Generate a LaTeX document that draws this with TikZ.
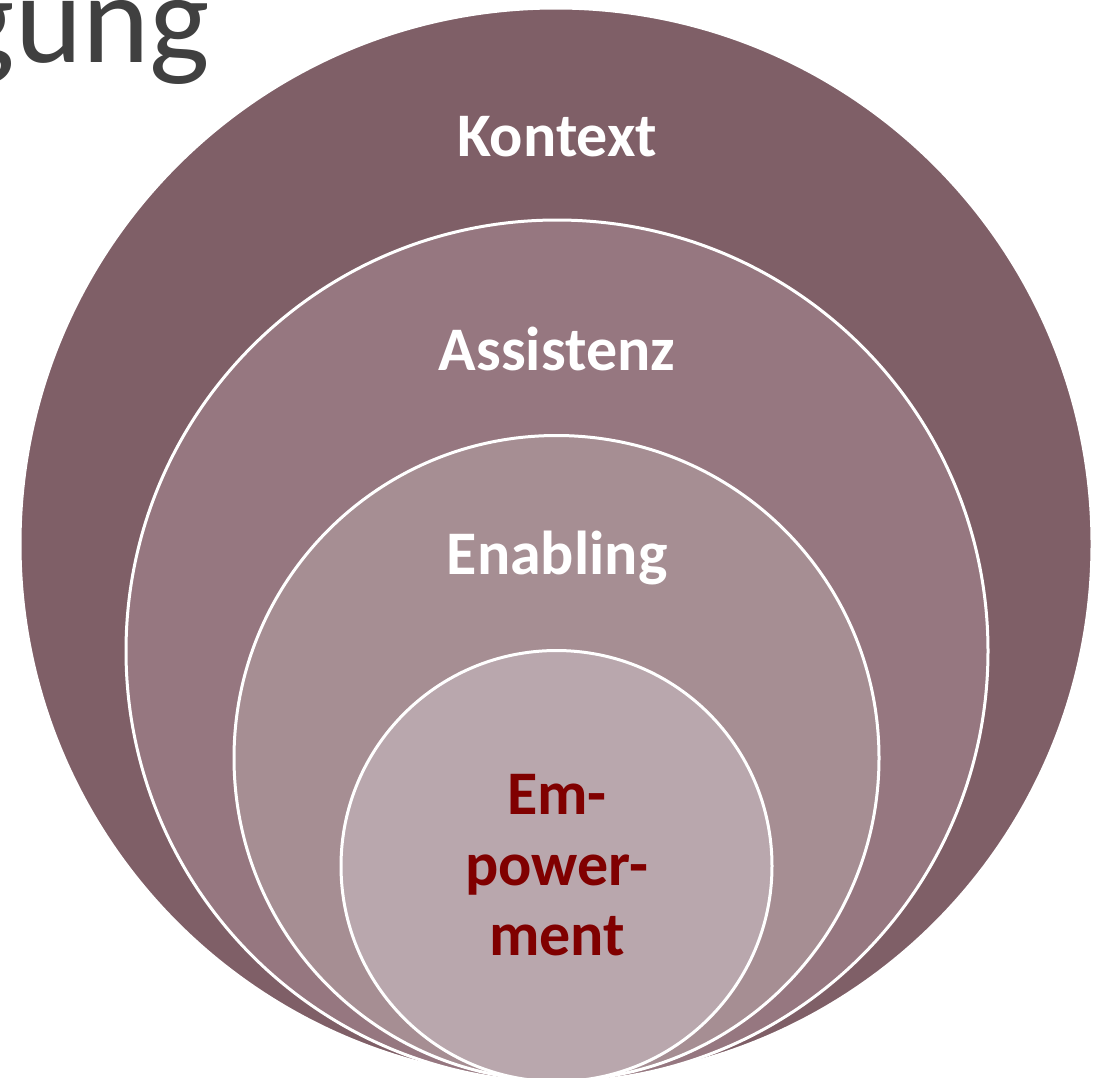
\documentclass[tikz,border=0pt]{standalone}
\usepackage{fontspec}
\setmainfont{Carlito}
\definecolor{cA}{HTML}{7F5F67}
\definecolor{cB}{HTML}{967780}
\definecolor{cC}{HTML}{A68E93}
\definecolor{cD}{HTML}{B9A7AD}
\definecolor{cRed}{HTML}{800000}
\definecolor{cGray}{HTML}{404040}
\tikzset{
  ring/.style={circle, draw=white, line width=3pt, inner sep=0pt},
  lbl/.style={font=\fontsize{62}{74}\selectfont\bfseries, text=white, anchor=base, inner sep=0pt},
  inlbl/.style={font=\fontsize{62}{74}\selectfont\bfseries, text=cRed, align=center, inner sep=0pt}
}
\begin{document}
\begin{tikzpicture}[x=1pt,y=-1pt]
\useasboundingbox (0,0) rectangle (1102,1077);
\node[anchor=base east, inner sep=0pt, text=cGray, font=\fontsize{128}{150}\selectfont] (title) at (210,62) {gung};
\node[ring, fill=cA, minimum size=1072pt] (ringA) at (556,544) {};
\node[ring, fill=cB, minimum size=862pt] (ringB) at (557,651) {};
\node[ring, fill=cC, minimum size=645pt] (ringC) at (556.5,758) {};
\node[ring, fill=cD, minimum size=431pt] (ringD) at (556.5,866) {};
\node[lbl] (kontext) at (557,156) {Kontext};
\node[lbl] (assistenz) at (557,370) {Assistenz};
\node[lbl] (enabling) at (557,574) {Enabling};
\node[inlbl, anchor=base] (em1) at (557,814) {Em-};
\node[inlbl, anchor=base] (em2) at (557,885) {power-};
\node[inlbl, anchor=base] (em3) at (557,955) {ment};
\end{tikzpicture}
\end{document}
